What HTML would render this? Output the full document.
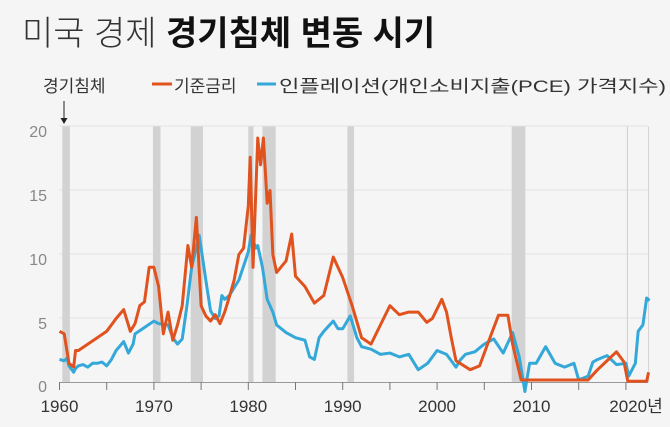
<!DOCTYPE html>
<html><head><meta charset="utf-8"><style>
body{margin:0;background:#f5f5f5;}
svg{display:block;font-family:"Liberation Sans","Noto Sans CJK KR",sans-serif;}
</style></head><body>
<svg width="670" height="427" viewBox="0 0 670 427">
<rect width="670" height="427" fill="#f5f5f5"/>
<text x="22" y="45" font-size="34" fill="#333" font-weight="300">미국 경제 <tspan font-weight="bold" fill="#111">경기침체 변동 시기</tspan></text>
<text x="43" y="92" font-size="17" fill="#333">경기침체</text>
<line x1="64" y1="101" x2="64" y2="120" stroke="#222" stroke-width="1"/>
<polygon points="60.5,118 67.5,118 64,124" fill="#222"/>
<line x1="152" y1="84" x2="172" y2="84" stroke="#e0531f" stroke-width="3"/>
<text x="174" y="92" font-size="17" fill="#333">기준금리</text>
<line x1="257" y1="84" x2="276" y2="84" stroke="#34a8d8" stroke-width="3"/>
<text x="279" y="92" font-size="17" fill="#333" textLength="387" lengthAdjust="spacingAndGlyphs">인플레이션(개인소비지출(PCE) 가격지수)</text>
<g stroke="#e2e2e2" stroke-width="1">
<line x1="59" y1="126" x2="648" y2="126"/><line x1="59" y1="190" x2="648" y2="190"/>
<line x1="59" y1="254" x2="648" y2="254"/><line x1="59" y1="318" x2="648" y2="318"/>
</g>
<g transform="translate(59.5,382.5) scale(9.44,-12.8)" fill="#d2d2d2">
<rect x="0.3" y="0" width="0.8" height="20"/>
<rect x="9.9" y="0" width="0.8" height="20"/>
<rect x="13.9" y="0" width="1.3" height="20"/>
<rect x="20.0" y="0" width="0.55" height="20"/>
<rect x="21.5" y="0" width="1.4" height="20"/>
<rect x="30.5" y="0" width="0.7" height="20"/>
<rect x="47.9" y="0" width="1.45" height="20"/>
<rect x="60.1" y="0" width="0.12" height="20"/>
<rect x="62.35" y="0" width="0.1" height="20"/>
</g>
<g font-size="16" fill="#888" text-anchor="end">
<text x="47" y="137">20</text><text x="47" y="201">15</text><text x="47" y="265">10</text><text x="47" y="329">5</text><text x="47" y="392">0</text>
</g>
<line x1="59" y1="382.5" x2="648" y2="382.5" stroke="#999" stroke-width="1"/>
<g stroke="#777" stroke-width="1">
<line x1="59.5" y1="382" x2="59.5" y2="390"/><line x1="106.7" y1="382" x2="106.7" y2="390"/><line x1="153.9" y1="382" x2="153.9" y2="390"/><line x1="201.1" y1="382" x2="201.1" y2="390"/><line x1="248.3" y1="382" x2="248.3" y2="390"/><line x1="295.5" y1="382" x2="295.5" y2="390"/><line x1="342.7" y1="382" x2="342.7" y2="390"/><line x1="389.9" y1="382" x2="389.9" y2="390"/><line x1="437.1" y1="382" x2="437.1" y2="390"/><line x1="484.3" y1="382" x2="484.3" y2="390"/><line x1="531.5" y1="382" x2="531.5" y2="390"/><line x1="578.7" y1="382" x2="578.7" y2="390"/><line x1="625.9" y1="382" x2="625.9" y2="390"/>
</g>
<g font-size="17" fill="#333" text-anchor="middle">
<text x="59.5" y="412">1960</text><text x="153.9" y="412">1970</text><text x="248.3" y="412">1980</text><text x="342.7" y="412">1990</text><text x="437.1" y="412">2000</text><text x="531.5" y="412">2010</text><text x="636" y="412">2020년</text>
</g>
<g transform="translate(59.5,382.5) scale(9.44,-12.8)" fill="none" stroke-width="3" stroke-linejoin="round">
<polyline vector-effect="non-scaling-stroke" stroke="#34a8d8" points="0,1.8 0.5,1.7 0.8,1.9 1,1.3 1.5,0.8 1.7,1.1 2,1.3 2.5,1.4 3,1.2 3.5,1.5 4,1.5 4.5,1.6 5,1.3 5.5,1.8 6,2.5 6.8,3.2 7.3,2.3 7.8,3.0 8,3.8 9,4.3 10,4.8 10.5,4.6 11.5,4.5 12,3.5 12.5,3.0 13,3.4 13.5,6.0 14,9.0 14.8,11.5 15.5,8.0 16,5.6 16.5,5.0 16.9,5.2 17.2,6.8 17.5,6.5 18,6.8 19,8.0 20,10.2 20.3,11.5 20.8,10.5 21,10.7 21.5,9.0 22,6.5 22.6,5.5 23,4.5 24,3.9 25,3.5 26,3.3 26.5,2.0 27,1.8 27.5,3.5 28,4.0 29,4.8 29.5,4.2 30,4.2 30.8,5.2 31.5,3.5 32,2.8 33,2.6 34,2.2 35,2.3 36,2.0 37,2.2 38,1.0 39,1.5 40,2.5 41,2.2 42,1.2 42.5,1.8 43,2.2 44,2.4 45,3.0 46,3.4 47,2.3 48,3.9 48.7,2.0 49.3,-0.7 49.8,1.5 50.5,1.5 51.5,2.8 52.5,1.5 53.5,1.2 54.5,1.5 55,0.2 56,0.5 56.5,1.6 57,1.8 58,2.1 59,1.4 60,1.5 60.3,0.5 61,1.5 61.3,4.0 61.8,4.5 62.2,6.6 62.5,6.4"/>
<polyline vector-effect="non-scaling-stroke" stroke="#e0531f" points="0,4.0 0.5,3.8 1,1.5 1.5,1.2 1.7,2.5 2,2.5 3,3.0 4,3.5 5,4.0 6,5.0 6.8,5.7 7.5,4.0 8,4.6 8.5,6.0 9,6.3 9.5,9.0 10,9.0 10.5,7.5 11,3.8 11.5,5.5 12,3.3 12.5,4.5 13,6.0 13.6,10.7 14,9.0 14.5,12.9 15,6.0 15.5,5.2 16,4.8 16.5,5.3 17,4.6 17.5,5.5 18,6.7 18.5,8.0 19,10.0 19.5,10.5 20,13.8 20.2,17.6 20.5,9.0 20.8,15 21,19.1 21.3,17 21.6,19.1 22,14 22.3,15 22.6,10 23,8.6 24,9.5 24.6,11.6 25,8.3 26,7.5 27,6.2 28,6.8 29,9.8 30,8.2 31,6.0 32,3.5 33,3.0 34,4.5 35,6.0 36,5.3 37,5.5 38,5.5 38.9,4.7 39.5,5.0 40.5,6.5 41,5.5 41.5,3.5 42,1.7 43.5,1.0 44.5,1.3 45.5,3.3 46.5,5.25 47.5,5.25 48,3.0 48.9,0.2 56,0.2 57,1.0 58,1.7 59,2.4 59.8,1.6 60.2,0.1 62.2,0.1 62.4,0.8"/>
</g>
</svg>
</body></html>
